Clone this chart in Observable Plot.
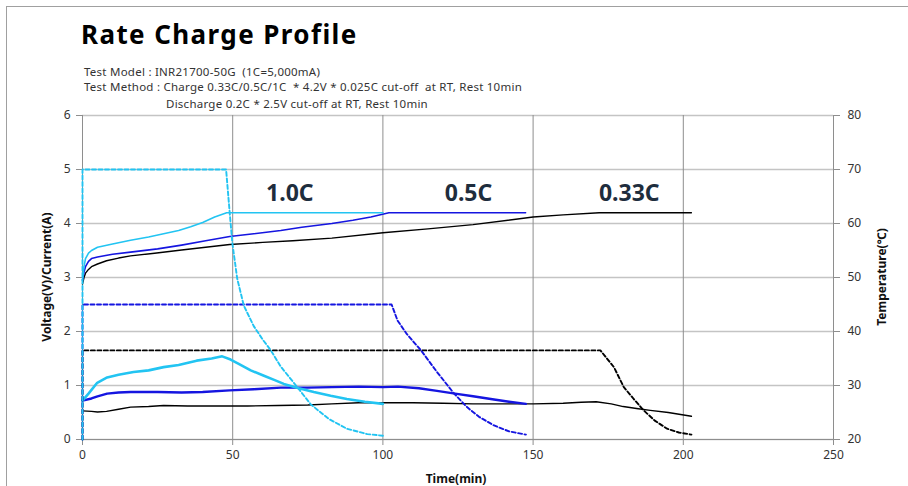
<!DOCTYPE html>
<html>
<head>
<meta charset="utf-8">
<script src="https://cdn.jsdelivr.net/npm/d3@7"></script>
<script src="https://cdn.jsdelivr.net/npm/@observablehq/plot@0.6"></script>
<style>
  html, body { margin: 0; padding: 0; background: #fff; }
  #wrap { position: relative; width: 908px; height: 486px; overflow: hidden; font-family: "Noto Sans", "Open Sans", sans-serif; color: #222; }
  #frame { position: absolute; left: 6px; top: 6px; right: -2px; bottom: -2px; border-top: 1.5px solid #a0a0a0; border-left: 1.5px solid #a0a0a0; }
  #title { position: absolute; left: 81px; top: 16px; font-size: 26px; font-weight: 700; letter-spacing: 1.4px; color: #000; white-space: pre; }
  .sub { position: absolute; font-size: 11.5px; letter-spacing: 0.25px; color: #333; white-space: pre; }
  #chart { position: absolute; left: 0; top: 100px; }
  .axt { position: absolute; font-size: 12px; font-weight: 700; color: #111; white-space: pre; }
</style>
</head>
<body>
<div id="wrap">
  <div id="frame"></div>
  <div id="title">Rate Charge Profile</div>
  <div class="sub" style="left:84px; top:64px;">Test Model : INR21700-50G  (1C=5,000mA)</div>
  <div class="sub" style="left:84px; top:79px;">Test Method : Charge 0.33C/0.5C/1C  * 4.2V * 0.025C cut-off  at RT, Rest 10min</div>
  <div class="sub" style="left:166px; top:96px;">Discharge 0.2C * 2.5V cut-off at RT, Rest 10min</div>
  <div id="chart"></div>
  <div class="axt" id="ylab" style="left:46px; top:277px; transform: translate(-50%,-50%) rotate(-90deg);">Voltage(V)/Current(A)</div>
  <div class="axt" id="y2lab" style="left:881px; top:277px; transform: translate(-50%,-50%) rotate(-90deg);">Temperature(℃)</div>
  <div class="axt" id="xlab" style="left:456px; top:478px; transform: translate(-50%,-50%);">Time(min)</div>
</div>
<script>
// ---- tick values ----
const timeTicks = [0, 50, 100, 150, 200, 250];
const voltTicks = [0, 1, 2, 3, 4, 5, 6];
const tempTicks = [20, 30, 40, 50, 60, 70, 80];

// ---- 1.0C (cyan) ----
const t10V = [0, 0.5, 1, 2, 3, 5, 10, 16, 22, 27, 32, 36, 40, 44, 48, 100];
const v10  = [2.95, 3.2, 3.35, 3.45, 3.5, 3.56, 3.62, 3.69, 3.75, 3.81, 3.87, 3.94, 4.02, 4.12, 4.2, 4.2];
const t10I = [0, 0, 47.8, 49, 49.9, 51.5, 53.7, 57, 60, 62.7, 66, 71.5, 76, 82, 88, 94.8, 100];
const i10  = [0, 5, 5, 4.2, 3.63, 2.98, 2.48, 2.1, 1.85, 1.65, 1.35, 0.97, 0.65, 0.38, 0.2, 0.1, 0.07];
const t10T = [0, 2, 4.9, 8.2, 12, 17, 22, 27, 32, 38, 43, 46.5, 49.3, 52, 56, 60.4, 64, 67, 72, 77, 82.6, 88, 94, 100];
const T10  = [27.2, 28.5, 30.5, 31.5, 32.0, 32.5, 32.8, 33.4, 33.8, 34.6, 35.0, 35.4, 34.8, 34.0, 32.8, 31.8, 31.0, 30.3, 29.5, 28.8, 28.1, 27.5, 27.0, 26.6];

// ---- 0.5C (blue) ----
const t05V = [0, 0.5, 1, 2, 3, 5, 10, 16, 25, 33, 41, 49, 57, 66, 73, 83, 90, 96, 102, 147.5];
const v05  = [2.95, 3.1, 3.2, 3.3, 3.35, 3.38, 3.43, 3.47, 3.53, 3.6, 3.68, 3.76, 3.81, 3.87, 3.93, 4.0, 4.06, 4.12, 4.2, 4.2];
const t05I = [0, 0, 102.9, 104.9, 108, 112.7, 118, 123.7, 128, 132, 137, 142, 147.6];
const i05  = [0, 2.5, 2.5, 2.2, 1.95, 1.65, 1.25, 0.85, 0.6, 0.42, 0.26, 0.15, 0.09];
const t05T = [0, 3, 5, 8.2, 12, 16, 25, 33, 40, 49, 57, 66, 75, 83, 92, 100, 105, 112, 118, 124, 130, 137, 142, 147.6];
const T05  = [27.2, 27.6, 28.0, 28.5, 28.7, 28.8, 28.8, 28.7, 28.8, 29.1, 29.3, 29.6, 29.6, 29.7, 29.8, 29.7, 29.8, 29.5, 29.0, 28.5, 28.0, 27.4, 27.0, 26.6];

// ---- 0.33C (black) ----
const t033V = [0, 0.5, 1, 2, 3, 5, 8, 12, 16, 24, 33, 41, 49, 60, 70, 83, 100, 115, 130, 150, 160, 172, 202.7];
const v033  = [2.88, 3.0, 3.08, 3.15, 3.2, 3.25, 3.31, 3.36, 3.4, 3.45, 3.51, 3.56, 3.61, 3.65, 3.68, 3.73, 3.83, 3.9, 3.98, 4.12, 4.16, 4.2, 4.2];
const t033I = [0, 0, 172.4, 176.9, 180.2, 183.5, 186.8, 190.5, 194.6, 198.5, 202.7];
const i033  = [0, 1.65, 1.65, 1.34, 0.97, 0.75, 0.54, 0.35, 0.2, 0.13, 0.09];
const t033T = [0, 3, 5, 8, 12, 16, 22, 27, 35, 45, 55, 65, 75, 83, 92, 100, 110, 120, 130, 140, 150, 160, 166, 171, 176, 180, 185, 189, 195, 202.7];
const T033  = [25.3, 25.2, 25.1, 25.2, 25.6, 26.0, 26.1, 26.3, 26.2, 26.2, 26.2, 26.3, 26.4, 26.6, 26.8, 26.8, 26.8, 26.7, 26.6, 26.6, 26.6, 26.7, 26.9, 27.0, 26.6, 26.1, 25.7, 25.4, 25.0, 24.3];

// ---- annotations ----
const rateLabels = ["1.0C", "0.5C", "0.33C"];
const rateLabelT = [69, 128.5, 182];
const rateLabelV = [4.55, 4.55, 4.55];

// ---- build tables ----
const zip = (ts, vs) => ts.map((t, i) => ({t, v: vs[i]}));
const tempToLeft = T => (T - 20) / 10; // right axis 20..80 ℃ ↔ left 0..6

const colors = {c10: "#22C4F2", c05: "#1515E0", c033: "#000000"};
const series = [
  {key: "c033", V: zip(t033V, v033), I: zip(t033I, i033), T: zip(t033T, T033), wV: 1.4, wT: 1.4},
  {key: "c05",  V: zip(t05V, v05),   I: zip(t05I, i05),   T: zip(t05T, T05),   wV: 1.6, wT: 2.4},
  {key: "c10",  V: zip(t10V, v10),   I: zip(t10I, i10),   T: zip(t10T, T10),   wV: 1.6, wT: 2.6}
];
const labels = rateLabels.map((s, i) => ({s, t: rateLabelT[i], v: rateLabelV[i]}));

const marks = [
  Plot.gridY({ticks: voltTicks, stroke: "#c4c4c4", strokeOpacity: 1, strokeWidth: 1.4}),
  Plot.gridX({ticks: timeTicks, stroke: "#8e8e8e", strokeOpacity: 1, strokeWidth: 1}),
  Plot.ruleY([0], {stroke: "#8e8e8e"}),
  Plot.ruleX([0], {stroke: "#8e8e8e"}),
  Plot.axisX({ticks: timeTicks, tickSize: 6, tickPadding: 5, stroke: "#8e8e8e", fill: "#333", label: null, fontSize: 12}),
  Plot.axisY({ticks: voltTicks, anchor: "left", tickSize: 6, tickPadding: 6, stroke: "#8e8e8e", fill: "#333", label: null, fontSize: 12, tickFormat: d => String(d)}),
  Plot.axisY({ticks: tempTicks.map(tempToLeft), anchor: "right", tickSize: 6, tickPadding: 8, stroke: "#8e8e8e", fill: "#333", label: null, fontSize: 12, tickFormat: d => String(Math.round(20 + d * 10))})
];
for (const s of series) {
  const c = colors[s.key];
  marks.push(Plot.line(s.T, {x: "t", y: d => tempToLeft(d.v), stroke: c, strokeWidth: s.wT}));
  marks.push(Plot.line(s.V, {x: "t", y: "v", stroke: c, strokeWidth: s.wV}));
}
for (const s of series) {
  marks.push(Plot.line(s.I, {x: "t", y: "v", stroke: colors[s.key], strokeWidth: 1.9, strokeDasharray: "4,2.5"}));
}
marks.push(Plot.text(labels, {x: "t", y: "v", text: "s", fill: "#1E2D3D", fontSize: 23, fontWeight: 700, fontFamily: "'Noto Sans'"}));

const chart = Plot.plot({
  width: 908,
  height: 386,
  marginTop: 15,
  marginBottom: 47,
  marginLeft: 82,
  marginRight: 75,
  x: {domain: [0, 250]},
  y: {domain: [0, 6]},
  style: {fontFamily: "'Noto Sans', sans-serif", fontSize: "12px", background: "transparent"},
  marks
});
document.getElementById("chart").appendChild(chart);
</script>
</body>
</html>
